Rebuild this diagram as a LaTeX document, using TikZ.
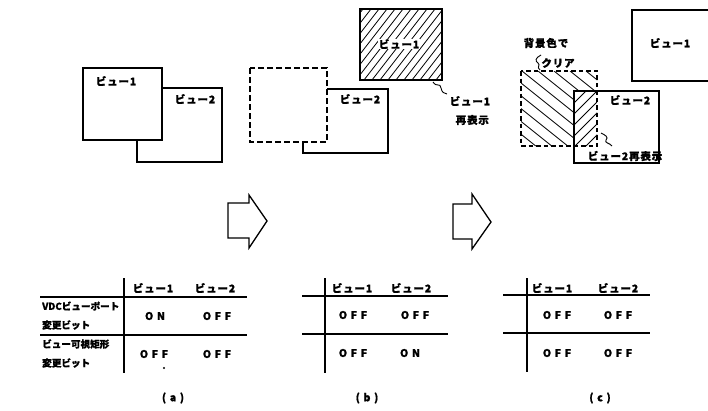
\documentclass[tikz,border=0pt]{standalone}
\usepackage{fontspec}
\newfontfamily\jpfont{Noto Sans CJK JP}[LetterSpace=8,FakeBold=1]
\newfontfamily\jprow{Noto Sans CJK JP}[LetterSpace=0,FakeBold=1]
\newfontfamily\jpwide{Noto Sans CJK JP}[LetterSpace=35,FakeBold=1]
\begin{document}
\begin{tikzpicture}[x=1pt,y=-1pt,line join=miter,
  box/.style={line width=1.3pt},
  dbox/.style={line width=1.3pt,dash pattern=on 6pt off 3pt},
  hatch/.style={line width=0.8pt},
  tline/.style={line width=1.1pt},
  lbl/.style={font=\jpfont\bfseries\fontsize{10.5}{12}\selectfont,inner sep=0.5pt},
  val/.style={font=\jpwide\bfseries\fontsize{10.5}{12}\selectfont,inner sep=0pt},
  rowl/.style={font=\jprow\bfseries\fontsize{9.6}{11}\selectfont,inner sep=0pt,anchor=west},
  lead/.style={line width=0.9pt}]
\useasboundingbox (0,0) rectangle (708,410);

% ---------- panel (a) ----------
\draw[box] (83,68) rectangle (162,140);
\draw[box] (162,88) -- (222,88) -- (222,162) -- (137,162) -- (137,140);
\node[lbl] (a1) at (116,81) {ビュー1};
\node[lbl] (a2) at (195,99) {ビュー2};

% ---------- panel (b) ----------
\draw[dbox] (250,68) rectangle (327,142);
\draw[box] (327,89) -- (388,89) -- (388,153) -- (303,153) -- (303,142);
\node[lbl] (b2) at (360,99) {ビュー2};
\begin{scope}
  \clip (360,9) rectangle (442,80);
  \foreach \i in {0,...,22} {
    \draw[hatch] (300+\i*8,80) -- (355+\i*8,9);
  }
\end{scope}
\draw[box] (360,9) rectangle (442,80);
\node[lbl,fill=white] (b1) at (399,44) {ビュー1};
\node[lbl,anchor=west] (b1r) at (449,101) {ビュー1};
\node[lbl,anchor=west] (b1s) at (455,120) {再表示};
\coordinate (bq0) at (433,82);
\coordinate (bq1) at (447,94);
\draw[lead] (bq0) .. controls (437,88) and (440,82) .. (441,88) .. controls (442,93) and (444,93) .. (bq1);

% arrows
\draw[box] (228,203) -- (249,203) -- (249,195) -- (267,221) -- (249,248) -- (249,238) -- (228,238) -- cycle;
\draw[box] (453,204) -- (472,204) -- (472,194) -- (491,222) -- (472,249) -- (472,239) -- (453,239) -- cycle;

% ---------- panel (c) ----------
\draw[box] (708,10) -- (632,10) -- (632,81) -- (708,81);
\node[lbl] (c1) at (670,43) {ビュー1};
\begin{scope}
  \clip (521,71) rectangle (597,91) (521,91) rectangle (574,146);
  \foreach \i in {0,...,14} {
    \draw[hatch] (410+\i*16,71) -- (510+\i*16,151);
  }
\end{scope}
\begin{scope}
  \clip (574,91) rectangle (597,146);
  \foreach \i in {0,...,10} {
    \draw[hatch] (520+\i*11,146) -- (580+\i*11,86);
  }
\end{scope}
\draw[dbox,dash pattern=on 4.5pt off 3pt] (521,71) rectangle (597,146);
\draw[box] (574,91) rectangle (659,163);
\node[lbl] (c2) at (630,100) {ビュー2};
\node[lbl] (cbg) at (546,43) {背景色で};
\node[lbl] (ccl) at (558,63) {クリア};
\node[lbl] (c2r) at (625,156) {ビュー2再表示};
\coordinate (cq0) at (541,55);
\coordinate (cq1) at (540,70);
\draw[lead] (cq0) .. controls (535,58) and (535,61) .. (538,63) .. controls (541,65) and (536,67) .. (cq1);
\coordinate (cr0) at (601,133);
\coordinate (cr1) at (612,146);
\draw[lead] (cr0) .. controls (605,135) and (609,137) .. (606,140) .. controls (604,143) and (610,143) .. (cr1);

% ---------- tables ----------
% (a)
\draw[tline,line width=1.3pt] (124,278) -- (124,373);
\draw[tline] (40,297) -- (247,297);
\draw[tline] (40,335) -- (247,335);
\node[lbl] (ta1) at (153,288) {ビュー1};
\node[lbl] (ta2) at (215,288) {ビュー2};
\node[rowl] (ra1) at (42,306) {VDCビューポート};
\node[rowl] (ra2) at (42,325) {変更ビット};
\node[rowl] (ra3) at (42,344) {ビュー可視矩形};
\node[rowl] (ra4) at (42,363) {変更ビット};
\node[val] (va11) at (155,316) {ON};
\node[val] (va12) at (217,316) {OFF};
\node[val] (va21) at (154,354) {OFF};
\node[val] (va22) at (217,354) {OFF};
\fill (164,368) circle (1.1);
\node[val] (capa) at (173,398) {(a)};

% (b)
\draw[tline,line width=1.3pt] (325,278) -- (325,373);
\draw[tline] (302,296) -- (448,296);
\draw[tline] (302,334) -- (448,334);
\node[lbl] (tb1) at (352,288) {ビュー1};
\node[lbl] (tb2) at (411,288) {ビュー2};
\node[val] (vb11) at (353,315) {OFF};
\node[val] (vb12) at (415,315) {OFF};
\node[val] (vb21) at (353,353) {OFF};
\node[val] (vb22) at (410,353) {ON};
\node[val] (capb) at (367,398) {(b)};

% (c)
\draw[tline,line width=1.3pt] (527,278) -- (527,372);
\draw[tline] (503,295) -- (650,295);
\draw[tline] (503,333) -- (650,333);
\node[lbl] (tc1) at (552,288) {ビュー1};
\node[lbl] (tc2) at (618,288) {ビュー2};
\node[val] (vc11) at (557,315) {OFF};
\node[val] (vc12) at (618,315) {OFF};
\node[val] (vc21) at (557,353) {OFF};
\node[val] (vc22) at (618,353) {OFF};
\node[val] (capc) at (600,398) {(c)};
\end{tikzpicture}
\end{document}
